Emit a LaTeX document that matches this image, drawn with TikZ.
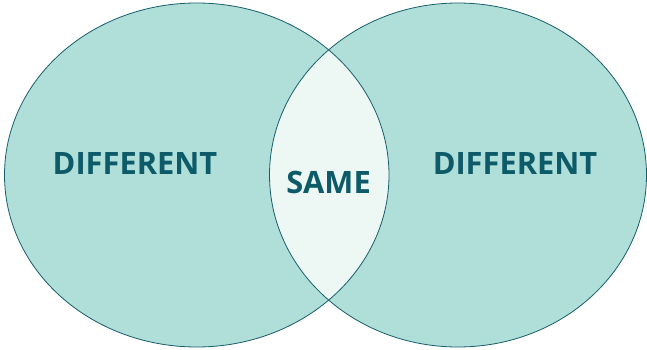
\documentclass[tikz,border=0pt]{standalone}
\usepackage{fontspec}
\setmainfont{Open Sans}
\definecolor{tealfill}{HTML}{B0DED8}
\definecolor{lensfill}{HTML}{EDF7F3}
\definecolor{edge}{HTML}{175E6C}
\definecolor{txt}{HTML}{0D5A69}
\begin{document}
\begin{tikzpicture}[x=1pt,y=-1pt,
  lbl/.style={text=txt,font=\bfseries\fontsize{30.8}{31}\selectfont,inner sep=0pt},
  outline/.style={draw=edge,line width=0.8pt}]
\useasboundingbox (0,0) rectangle (647,350);
\coordinate (cl) at (196.75,175);
\coordinate (cr) at (458,175);
\fill[tealfill] (cl) ellipse [x radius=192.25, y radius=172];
\fill[tealfill] (cr) ellipse [x radius=188.5, y radius=172];
\begin{scope}
  \clip (cl) ellipse [x radius=192.25, y radius=172];
  \fill[lensfill] (cr) ellipse [x radius=188.5, y radius=172];
\end{scope}
\draw[outline] (cl) ellipse [x radius=192.25, y radius=172];
\draw[outline] (cr) ellipse [x radius=188.5, y radius=172];
\node[lbl] (dl) at (135,164) {DIFFERENT};
\node[lbl] (dr) at (515,164) {DIFFERENT};
\node[lbl] (same) at (328.5,182) {SAME};
\end{tikzpicture}
\end{document}
